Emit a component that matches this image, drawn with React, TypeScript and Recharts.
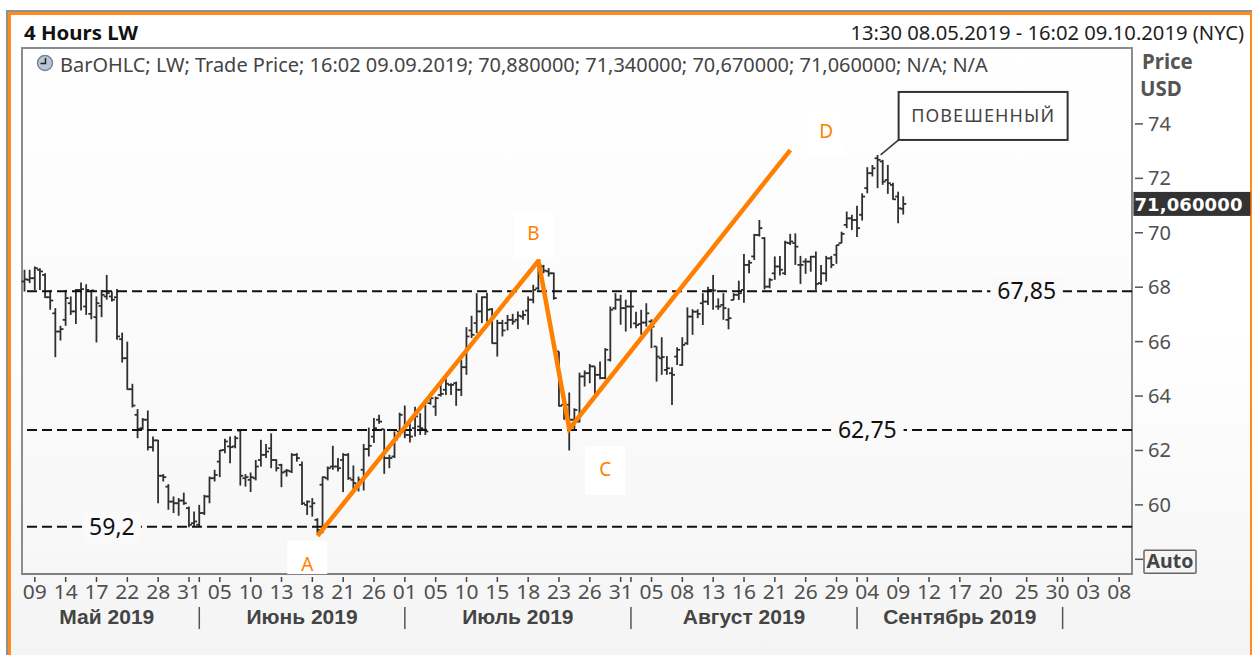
import { Bar, ComposedChart, Line, ReferenceDot, ReferenceLine, XAxis, YAxis } from "recharts";

const SLOT_COUNT = 216;
const PLOT_BOTTOM = 574;

const highs = [
  68.64, 68.64, 68.76, 68.7, 68.51, 67.9, 67.23, 66.58, 67.9, 67.66,
  67.93, 68.17, 68.11, 67.9, 67.66, 67.9, 68.45, 67.84, 67.93, 66.33,
  66.0, 64.45, 63.52, 63.19, 63.47, 62.51, 62.39, 61.13, 60.76, 60.31,
  60.25, 60.45, 59.94, 59.76, 60.0, 60.37, 61.04, 61.29, 62.02, 62.43,
  62.51, 62.54, 62.79, 61.13, 61.19, 61.65, 62.39, 62.24, 62.63, 61.68,
  61.51, 61.32, 61.9, 61.9, 61.59, 60.16, 60.25, 59.51, 61.04, 61.41,
  62.17, 61.72, 61.9, 61.9, 61.45, 61.04, 62.24, 62.84, 63.19, 63.31,
  62.79, 61.84, 62.7, 63.39, 63.65, 63.13, 63.61, 63.37, 63.68, 63.98,
  63.98, 64.47, 64.66, 64.47, 64.53, 65.33, 66.53, 66.95, 67.78, 67.66,
  67.8, 67.23, 66.8, 66.8, 66.98, 67.02, 67.11, 67.14, 67.66, 68.09,
  68.88, 68.82, 68.7, 68.54, 65.64, 64.04, 64.13, 63.55, 64.86, 64.94,
  65.18, 65.09, 65.27, 65.76, 67.29, 67.78, 67.72, 67.54, 67.84, 67.1,
  67.17, 67.41, 66.82, 65.82, 66.16, 65.47, 65.06, 65.79, 66.16, 67.26,
  67.19, 67.19, 67.78, 68.02, 68.45, 67.59, 67.78, 67.23, 67.78, 68.24,
  69.22, 69.0, 69.96, 70.47, 69.84, 68.33, 69.13, 69.15, 69.71, 69.96,
  69.98, 69.15, 69.06, 69.15, 69.31, 68.82, 69.15, 69.15, 69.55, 70.04,
  70.78, 70.66, 70.99, 71.45, 72.41, 72.49, 72.86, 72.68, 72.49, 71.84, 71.51, 71.34,
];

const lows = [
  67.84, 68.15, 67.9, 67.9, 67.6, 67.17, 65.43, 66.04, 66.58, 66.98,
  66.65, 67.14, 66.98, 66.82, 65.97, 66.9, 67.54, 67.47, 66.07, 65.23,
  64.23, 63.58, 62.45, 62.76, 62.0, 61.96, 60.06, 60.86, 59.82, 59.7,
  59.6, 60.0, 59.18, 59.21, 59.21, 59.63, 60.06, 60.86, 61.02, 61.9,
  61.53, 62.08, 60.71, 60.67, 60.47, 60.9, 61.41, 61.72, 61.35, 61.23,
  60.65, 61.04, 61.17, 61.59, 60.0, 59.63, 59.57, 58.96, 58.96, 60.9,
  61.29, 61.23, 60.47, 60.92, 60.49, 60.49, 60.53, 61.78, 62.27, 62.98,
  61.14, 61.35, 61.72, 62.51, 62.45, 62.29, 62.51, 62.57, 62.57, 63.68,
  63.27, 63.98, 64.04, 64.04, 63.64, 64.0, 64.78, 66.13, 66.31, 66.68,
  66.74, 65.92, 65.45, 66.19, 66.41, 66.62, 66.46, 66.8, 66.62, 67.41,
  67.9, 68.51, 68.39, 67.54, 63.62, 63.13, 62.0, 62.76, 63.03, 64.35,
  64.47, 64.08, 64.62, 64.62, 65.27, 67.17, 66.62, 66.37, 66.49, 66.49,
  66.25, 66.55, 65.76, 64.53, 64.78, 64.78, 63.67, 65.14, 65.11, 65.88,
  66.25, 66.86, 66.61, 67.35, 67.17, 67.17, 66.8, 66.45, 67.53, 67.53,
  67.43, 68.51, 69.0, 69.86, 67.92, 67.96, 68.27, 68.43, 68.45, 69.55,
  68.82, 68.12, 68.49, 68.57, 67.9, 68.08, 68.21, 68.7, 68.86, 69.62,
  70.17, 70.1, 69.84, 70.45, 71.45, 72.07, 71.64, 71.76, 71.43, 71.21, 70.35, 70.67,
];

const opens = [
  68.21, 68.27, 68.33, 68.64, 68.45, 67.63, 67.04, 66.37, 66.8, 67.41,
  67.11, 67.9, 67.29, 67.02, 66.9, 67.31, 67.66, 67.66, 67.63, 66.09,
  65.39, 64.25, 63.31, 62.82, 63.13, 62.12, 62.37, 61.07, 60.67, 60.12,
  60.06, 60.16, 59.88, 59.33, 59.27, 59.7, 60.31, 60.98, 61.59, 62.02,
  62.15, 62.15, 62.73, 60.98, 60.92, 60.98, 61.65, 61.84, 62.08, 61.65,
  61.47, 61.23, 61.23, 61.84, 61.47, 60.0, 59.94, 59.45, 60.74, 60.98,
  61.41, 61.41, 61.65, 61.84, 60.92, 60.74, 61.29, 62.05, 62.51, 63.13,
  62.78, 61.72, 61.78, 62.7, 62.7, 62.57, 62.82, 62.88, 62.76, 63.74,
  63.61, 64.04, 64.23, 64.41, 64.47, 64.23, 65.06, 66.41, 66.68, 67.11,
  67.63, 67.19, 65.94, 66.68, 66.68, 66.8, 66.8, 66.92, 67.14, 67.54,
  67.96, 68.76, 68.58, 68.51, 65.64, 63.68, 63.68, 63.13, 63.06, 64.72,
  64.84, 65.09, 64.78, 64.66, 65.33, 67.23, 67.54, 67.23, 67.29, 66.67,
  66.65, 66.7, 66.74, 65.82, 65.39, 64.96, 64.84, 65.45, 65.14, 65.94,
  66.92, 67.1, 67.41, 67.47, 67.9, 67.29, 67.35, 66.8, 67.53, 67.72,
  67.9, 68.82, 69.13, 69.92, 69.8, 68.02, 68.51, 68.76, 68.51, 69.62,
  69.62, 68.82, 68.94, 68.94, 69.12, 68.15, 68.51, 69.06, 69.19, 69.62,
  70.29, 70.53, 70.47, 70.66, 71.64, 72.19, 72.74, 72.62, 71.94, 71.76, 71.33, 70.88,
];

const closes = [
  68.29, 68.33, 68.7, 68.58, 67.63, 67.51, 66.37, 66.46, 67.6, 67.11,
  67.9, 67.93, 67.9, 67.88, 67.41, 67.72, 67.78, 67.54, 66.19, 65.39,
  64.25, 63.65, 62.79, 63.13, 62.12, 62.37, 61.07, 61.02, 60.12, 60.06,
  60.16, 60.06, 59.27, 59.39, 59.7, 60.31, 60.98, 61.1, 62.0, 62.33,
  62.12, 62.45, 61.07, 61.02, 61.02, 61.41, 61.84, 61.96, 61.65, 61.35,
  61.19, 61.26, 61.84, 61.72, 60.06, 60.12, 60.06, 59.08, 61.02, 61.35,
  61.41, 61.35, 61.84, 60.98, 60.8, 60.92, 62.05, 62.17, 62.82, 63.06,
  61.72, 61.72, 62.39, 63.31, 62.57, 62.51, 63.25, 62.82, 62.7, 63.92,
  63.92, 64.08, 64.45, 64.41, 64.23, 65.06, 66.19, 66.25, 67.11, 67.63,
  67.17, 65.94, 66.68, 66.41, 66.8, 66.74, 66.95, 66.98, 67.54, 67.9,
  68.82, 68.61, 68.51, 67.6, 63.64, 63.62, 63.13, 63.49, 64.72, 64.84,
  65.09, 64.78, 64.66, 65.7, 67.17, 67.54, 67.23, 67.29, 67.29, 66.61,
  66.7, 67.04, 66.55, 65.45, 65.43, 65.02, 64.78, 65.7, 65.88, 66.92,
  67.1, 67.02, 67.47, 67.9, 67.88, 67.29, 67.23, 66.86, 67.72, 67.78,
  68.82, 68.9, 69.92, 70.17, 68.02, 68.27, 68.76, 68.64, 69.64, 69.68,
  69.49, 68.82, 68.94, 69.12, 68.12, 68.51, 69.06, 68.82, 69.55, 69.96,
  70.53, 70.47, 70.17, 71.33, 72.19, 72.37, 72.68, 71.88, 71.82, 71.23, 70.9, 71.06,
];

const dayTickSlots = [
  2, 8, 14, 20, 26, 32, 38, 44, 50, 56, 62, 68, 74, 80, 86, 92, 98, 104, 110, 116,
  122, 128, 134, 140, 146, 152, 158, 164, 170, 176, 182, 188, 195, 201, 207, 213,
];
const dayTickLabels = [
  "09", "14", "17", "22", "28", "31", "05", "10", "13", "18", "21", "26", "01", "05", "10", "15", "18", "23", "26", "31",
  "05", "08", "13", "16", "21", "26", "29", "04", "09", "12", "17", "20", "25", "30", "03", "08",
];
const monthBoundarySlots = [34, 74, 118, 162, 202];
const monthLabelSlots = [16, 54, 96, 140, 182];
const monthLabels = ["Май 2019", "Июнь 2019", "Июль 2019", "Август 2019", "Сентябрь 2019"];

const priceTicks = [58, 60, 62, 64, 66, 68, 70, 72, 74];

const waveSlots = [57, 100, 106, 149];
const wavePrices = [58.86, 68.97, 62.79, 73.04];
const waveLetters = ["A", "B", "C", "D"];
const waveLetterSlots = [55, 99, 113, 156];
const waveLetterPrices = [57.84, 69.99, 61.32, 73.75];

const levelPrices = [67.85, 62.75, 59.2];
const levelLabels = ["67,85", "62,75", "59,2"];
const levelLabelSlots = [195, 164, 17];

const lastPrice = 71.06;
const lastPriceLabel = "71,060000";
const calloutText = "ПОВЕШЕННЫЙ";

const slots = Array.from({ length: SLOT_COUNT }, (_, i) => {
  const w = waveSlots.indexOf(i);
  return {
    slot: i,
    range: i < highs.length ? [lows[i], highs[i]] : null,
    open: opens[i],
    close: closes[i],
    high: highs[i],
    low: lows[i],
    wave: w >= 0 ? wavePrices[w] : null,
  };
});

const allTickSlots = Array.from(new Set([...dayTickSlots, ...monthBoundarySlots])).sort((a, b) => a - b);

const FONT = '"Noto Sans", sans-serif';
const GREY = "#505050";

function OhlcMark(props: any) {
  const { x, y, width, height, payload } = props;
  if (!payload || !payload.range) return null;
  const cx = x + width / 2;
  const span = payload.high - payload.low;
  const openY = y + (height * (payload.high - payload.open)) / span;
  const closeY = y + (height * (payload.high - payload.close)) / span;
  return (
    <g stroke="#2f2f2f" strokeWidth={1.8}>
      <line x1={cx} x2={cx} y1={y} y2={y + height} />
      <line x1={cx - 3} x2={cx} y1={openY} y2={openY} />
      <line x1={cx} x2={cx + 3} y1={closeY} y2={closeY} />
    </g>
  );
}

function DayTick(props: any) {
  const { x, y, payload } = props;
  const i = dayTickSlots.indexOf(payload.value);
  return (
    <g>
      <line x1={x} x2={x} y1={y + 3} y2={y + 8} stroke="#444" strokeWidth={1.5} />
      {monthBoundarySlots.includes(payload.value) && (
        <line x1={x} x2={x} y1={y + 33} y2={y + 55} stroke="#555" strokeWidth={1.5} />
      )}
      {i >= 0 && (
        <text x={x} y={y + 25} textAnchor="middle" fontFamily={FONT} fontSize={19} fill={GREY} textLength={24} lengthAdjust="spacingAndGlyphs">
          {dayTickLabels[i]}
        </text>
      )}
    </g>
  );
}

function MonthTick(props: any) {
  const { x, y, payload } = props;
  const i = monthLabelSlots.indexOf(payload.value);
  return (
    <text x={x} y={y + 14} textAnchor="middle" fontFamily='"Liberation Sans", sans-serif' fontWeight={700} fontSize={21} fill="#444">
      {monthLabels[i]}
    </text>
  );
}

function PriceTick(props: any) {
  const { x, y, payload } = props;
  const isAuto = payload.value === 58;
  return (
    <g>
      <line x1={x + 3} x2={x + 11} y1={y} y2={y} stroke="#555" strokeWidth={1.5} />
      {isAuto ? (
        <g>
          <rect x={x + 12} y={y - 9} width={52} height={23} fill="#f5f5f5" stroke="#666" strokeWidth={1.5} rx={1} />
          <text x={x + 38} y={y + 9} textAnchor="middle" fontFamily={FONT} fontWeight={700} fontSize={19.5} fill="#444">
            Auto
          </text>
        </g>
      ) : (
        <text x={x + 16} y={y + 7} fontFamily={FONT} fontSize={20} fill={GREY}>
          {payload.value}
        </text>
      )}
    </g>
  );
}

function WaveLetter(props: any) {
  const { cx, cy, letter } = props;
  const top = cy - 23;
  const bottom = Math.min(cy + 26, PLOT_BOTTOM);
  return (
    <g>
      <rect x={cx - 20} y={top} width={40} height={bottom - top} fill="#fff" />
      <text x={cx} y={cy + 7} textAnchor="middle" fontFamily={FONT} fontSize={19} fill="#FF8000">
        {letter}
      </text>
    </g>
  );
}

function LevelLabel(props: any) {
  const { cx, cy, text } = props;
  const w = text.length * 14.5;
  return (
    <g>
      <rect x={cx - w / 2} y={cy - 16} width={w} height={32} fill="#fafafa" />
      <text x={cx} y={cy + 8} textAnchor="middle" fontFamily={FONT} fontSize={23} fill="#111">
        {text}
      </text>
    </g>
  );
}

function Callout(props: any) {
  const { cx, cy } = props;
  return (
    <g>
      <line x1={cx + 3} y1={cy} x2={cx + 21} y2={cy - 15} stroke="#333" strokeWidth={1.5} />
      <rect x={cx + 21} y={cy - 63} width={169} height={48} fill="#fff" stroke="#333" strokeWidth={2} />
      <text x={cx + 105} y={cy - 33} textAnchor="middle" fontFamily={FONT} fontSize={18} fill="#444" textLength={143}>
        {calloutText}
      </text>
    </g>
  );
}

function LastPriceTag(props: any) {
  const { cx, cy } = props;
  return (
    <g>
      <rect x={cx + 4} y={cy - 12} width={117} height={24} fill="#333" />
      <text x={cx + 5} y={cy + 7} fontFamily='"DejaVu Sans", sans-serif' fontWeight={700} fontSize={18} fill="#fff" textLength={108}>
        {lastPriceLabel}
      </text>
    </g>
  );
}

export default function App() {
  return (
    <div style={{ position: "absolute", left: 0, top: 0, width: 1256, height: 655, overflow: "hidden", background: "#fff", fontFamily: FONT }}>
      {/* frame */}
      <div
        style={{
          position: "absolute",
          left: 6,
          top: 10,
          width: 1246,
          height: 645,
          borderTop: "2px solid #909090",
          borderLeft: "2px solid #909090",
          boxSizing: "border-box",
        }}
      />
      <div
        style={{
          position: "absolute",
          left: 8,
          top: 12,
          width: 1244,
          height: 643,
          borderTop: "3px solid #FF8C1A",
          borderLeft: "3px solid #FF8C1A",
          borderRight: "2px solid #FF8C1A",
          boxSizing: "border-box",
          background: "linear-gradient(#ffffff 0%, #ffffff 50%, #f4f4f4 100%)",
        }}
      />
      {/* plot panel */}
      <div
        style={{
          position: "absolute",
          left: 21,
          top: 47,
          width: 1112,
          height: 528,
          border: "2px solid #8c8c8c",
          borderBottom: "2px solid #808080",
          boxSizing: "border-box",
          background: "linear-gradient(#ffffff 0%, #fbfbfb 50%, #f7f7f7 100%)",
        }}
      />
      <div style={{ position: "absolute", left: 24, top: 19, fontWeight: 700, fontSize: 20.4, lineHeight: "26px", color: "#111" }}>4 Hours LW</div>
      <div style={{ position: "absolute", right: 12, top: 19, fontSize: 20.2, lineHeight: "26px", color: "#222", whiteSpace: "nowrap" }}>
        13:30 08.05.2019 - 16:02 09.10.2019 (NYC)
      </div>
      <svg style={{ position: "absolute", left: 36, top: 54 }} width={18} height={18}>
        <circle cx={9} cy={9} r={7.5} fill="#b9c6d6" stroke="#75869a" strokeWidth={1.5} />
        <path d="M9.5 4 V9.5 H4.5" fill="none" stroke="#222" strokeWidth={1.5} />
      </svg>
      <div style={{ position: "absolute", left: 60, top: 52, fontSize: 19.95, lineHeight: "26px", color: "#444", whiteSpace: "nowrap" }}>
        BarOHLC; LW; Trade Price; 16:02 09.09.2019; 70,880000; 71,340000; 70,670000; 71,060000; N/A; N/A
      </div>
      <div style={{ position: "absolute", left: 1142, top: 48, fontWeight: 700, fontSize: 20.5, lineHeight: "26px", color: "#555" }}>Price</div>
      <div style={{ position: "absolute", left: 1140, top: 75, fontWeight: 700, fontSize: 20.5, lineHeight: "26px", color: "#555" }}>USD</div>

      <div style={{ position: "absolute", left: 0, top: 0 }}>
        <ComposedChart width={1256} height={655} data={slots} margin={{ top: 48, right: 0, bottom: 0, left: 22 }} barSize={3}>
          <XAxis
            dataKey="slot"
            height={36}
            ticks={allTickSlots}
            interval={0}
            axisLine={false}
            tickLine={false}
            tickSize={0}
            tickMargin={0}
            tick={<DayTick />}
          />
          <XAxis
            xAxisId="months"
            dataKey="slot"
            height={45}
            ticks={monthLabelSlots}
            interval={0}
            axisLine={false}
            tickLine={false}
            tickSize={0}
            tickMargin={0}
            tick={<MonthTick />}
          />
          <YAxis
            orientation="right"
            width={124}
            domain={[57.46, 76.79]}
            ticks={priceTicks}
            interval={0}
            allowDataOverflow
            axisLine={false}
            tickLine={false}
            tickSize={0}
            tickMargin={0}
            tick={<PriceTick />}
          />
          {levelPrices.map((p) => (
            <ReferenceLine key={p} y={p} stroke="#111" strokeWidth={2} strokeDasharray="10 5" />
          ))}
          <Bar dataKey="range" isAnimationActive={false} shape={<OhlcMark />} />
          <Line
            dataKey="wave"
            connectNulls
            dot={false}
            stroke="#FF8000"
            strokeWidth={4.5}
            strokeLinejoin="miter"
            isAnimationActive={false}
          />
          {waveLetters.map((letter, i) => (
            <ReferenceDot
              key={letter}
              x={waveLetterSlots[i]}
              y={waveLetterPrices[i]}
              r={0}
              ifOverflow="visible"
              shape={(p: any) => <WaveLetter {...p} letter={letter} />}
            />
          ))}
          {levelLabels.map((text, i) => (
            <ReferenceDot
              key={text}
              x={levelLabelSlots[i]}
              y={levelPrices[i]}
              r={0}
              ifOverflow="visible"
              shape={(p: any) => <LevelLabel {...p} text={text} />}
            />
          ))}
          <ReferenceDot x={166} y={72.86} r={0} ifOverflow="visible" shape={(p: any) => <Callout {...p} />} />
          <ReferenceDot x={215} y={lastPrice} r={0} ifOverflow="visible" shape={(p: any) => <LastPriceTag {...p} />} />
        </ComposedChart>
      </div>
    </div>
  );
}
